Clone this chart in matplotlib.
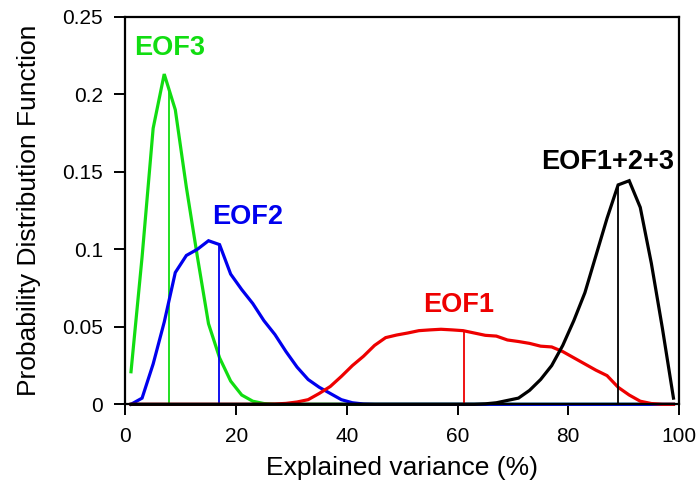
import numpy as np
import matplotlib
matplotlib.use("Agg")
import matplotlib.pyplot as plt

plt.rcParams['font.family'] = ['Liberation Sans', 'DejaVu Sans']

x = [1, 3, 5, 7, 9, 11, 13, 15, 17, 19, 21, 23, 25, 27, 29, 31, 33, 35, 37, 39,
     41, 43, 45, 47, 49, 51, 53, 55, 57, 59, 61, 63, 65, 67, 69, 71, 73, 75, 77, 79,
     81, 83, 85, 87, 89, 91, 93, 95, 97, 99]

eof3 = [0.021, 0.095, 0.178, 0.213, 0.190, 0.140, 0.095, 0.052, 0.030, 0.015,
        0.006, 0.002, 0.0005, 0, 0, 0, 0, 0, 0, 0,
        0, 0, 0, 0, 0, 0, 0, 0, 0, 0,
        0, 0, 0, 0, 0, 0, 0, 0, 0, 0,
        0, 0, 0, 0, 0, 0, 0, 0, 0, 0]

eof2 = [0.0, 0.004, 0.026, 0.053, 0.085, 0.096, 0.100, 0.1055, 0.103, 0.084,
        0.074, 0.065, 0.054, 0.045, 0.034, 0.024, 0.016, 0.011, 0.007, 0.003,
        0.001, 0.0002, 0, 0, 0, 0, 0, 0, 0, 0,
        0, 0, 0, 0, 0, 0, 0, 0, 0, 0,
        0, 0, 0, 0, 0, 0, 0, 0, 0, 0]

eof1 = [0, 0, 0, 0, 0, 0, 0, 0, 0, 0,
        0, 0, 0, 0.0002, 0.0006, 0.0015, 0.003, 0.007, 0.0115, 0.018,
        0.025, 0.031, 0.038, 0.043, 0.0447, 0.046, 0.0475, 0.048, 0.0484, 0.048,
        0.0475, 0.046, 0.0445, 0.044, 0.0415, 0.0405, 0.0393, 0.0375, 0.037, 0.034,
        0.030, 0.026, 0.022, 0.0185, 0.011, 0.006, 0.002, 0.0005, 0, 0]

eof123 = [0, 0, 0, 0, 0, 0, 0, 0, 0, 0,
          0, 0, 0, 0, 0, 0, 0, 0, 0, 0,
          0, 0, 0, 0, 0, 0, 0, 0, 0, 0,
          0, 0, 0.0003, 0.001, 0.0025, 0.004, 0.009, 0.016, 0.025, 0.038,
          0.054, 0.072, 0.096, 0.120, 0.1415, 0.1442, 0.127, 0.091, 0.049, 0.004]

means = {"EOF3": 7.9, "EOF2": 16.9, "EOF1": 61.2, "EOF1+2+3": 88.9}
labels = ["EOF3", "EOF2", "EOF1", "EOF1+2+3"]
label_pos = [(7.9, 0.2295), (22.0, 0.1205), (60.2, 0.064), (87.1, 0.156)]
colors = ["#11dd11", "#0000ee", "#ee0000", "black"]

xticks = [0, 20, 40, 60, 80, 100]
yticks = [0, 0.05, 0.1, 0.15, 0.2, 0.25]
ytick_labels = ["0", "0.05", "0.1", "0.15", "0.2", "0.25"]

fig = plt.figure(figsize=(6.99, 4.95), dpi=100)
ax = fig.add_axes([0.1795, 0.1832, 0.7919, 0.7831])

series = [eof3, eof2, eof1, eof123]
for name, ys, c, (tx, ty) in zip(labels, series, colors, label_pos):
    ax.plot(x, ys, color=c, lw=2.3, solid_joinstyle='miter', clip_on=False, zorder=3)
    m = means[name]
    top = np.interp(m, x, ys)
    ax.vlines(m, 0, top, color=c, lw=1.3, zorder=3)
    ax.text(tx, ty, name, color=c, fontsize=19.5, fontweight='bold',
            ha='center', va='center')

ax.set_xlim(0, 100)
ax.set_ylim(0, 0.25)
ax.set_xticks(xticks)
ax.set_yticks(yticks)
ax.set_yticklabels(ytick_labels)
for s in ax.spines.values():
    s.set_linewidth(1.6)
    s.set_zorder(4)
ax.tick_params(direction='out', length=8, width=1.4, labelsize=15, pad=8,
               top=False, right=False)

ax.set_xlabel("Explained variance (%)", fontsize=19)
ax.set_ylabel("Probability Distribution Function", fontsize=19)
ax.xaxis.label.set_va('center')
ax.yaxis.label.set_va('center')
ax.xaxis.set_label_coords(0.5, -0.164)
ax.yaxis.set_label_coords(-0.174, 0.5)

fig.savefig("out.png", dpi=100)
